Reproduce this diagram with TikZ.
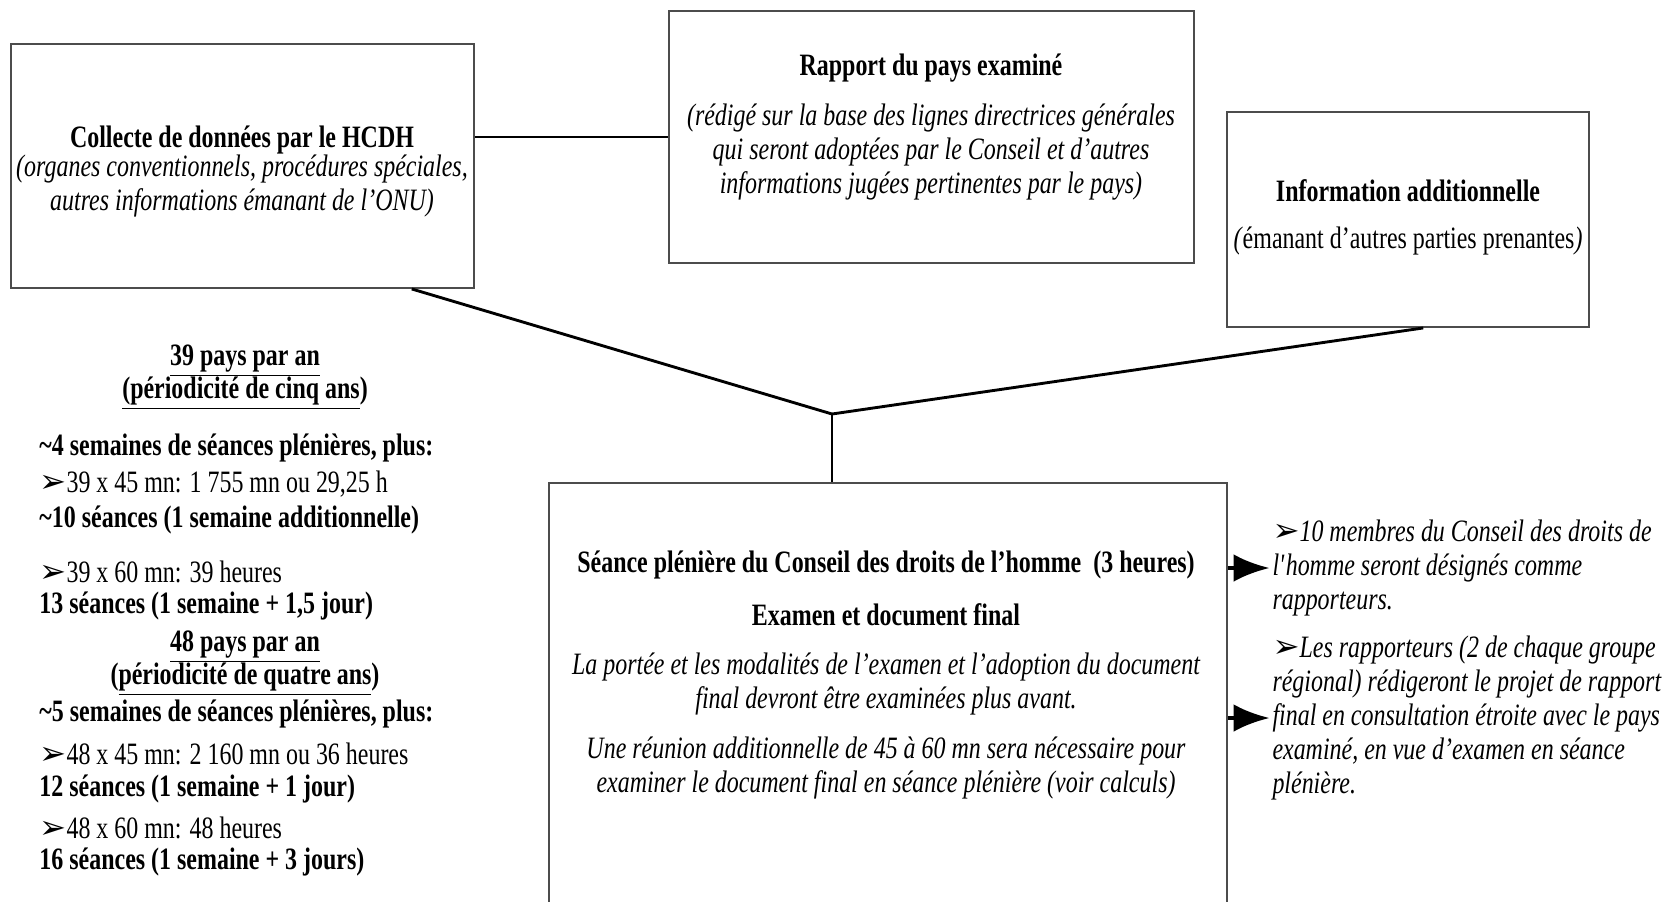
\documentclass[tikz,border=0pt]{standalone}
\usepackage{fontspec}
\setmainfont{Liberation Serif}[FakeStretch=0.77]
\newfontfamily\dingfont{DejaVu Sans}
\usetikzlibrary{arrows.meta,positioning,fit}

\newcommand{\pointer}{{\dingfont\fontsize{13.5}{12}\selectfont ➢}}
\tikzset{
  panel/.style={draw=black!70, line width=0.8pt, inner sep=0pt},
  head/.style={font=\fontsize{13}{14.3}\selectfont\bfseries, inner sep=0pt},
  note/.style={font=\fontsize{13}{14.3}\selectfont\itshape, align=center, inner sep=0pt},
  calcline/.style={font=\fontsize{13}{14.3}\selectfont, anchor=west, inner sep=0pt},
  link/.style={line width=1.2pt},
  bigarrow/.style={line width=1.8pt, -{Latex[length=15pt,width=11.5pt]}}
}

\begin{document}
\begin{tikzpicture}[x=0.418pt,y=-0.418pt]
  \useasboundingbox (0,0) rectangle (1672,901);
  \clip (0,0) rectangle (1672,901);

  % the four boxes
  \node[panel, fit={(11,44) (474,288)}] (collecte) {};
  \node[panel, fit={(669,11) (1194,263)}] (rapport) {};
  \node[panel, fit={(1227,112) (1589,327)}] (info) {};
  \node[panel, fit={(549,483) (1227,930)}] (pleniere) {};

  % box texts
  \node[head] (collecteT) at (242,140) {Collecte de données par le HCDH};
  \node[note] (collecteN) at (242,186) {(organes conventionnels, procédures spéciales,\\ autres informations émanant de l’ONU)};

  \node[head] (rapportT) at (931,68) {Rapport du pays examiné};
  \node[note] (rapportN) at (931,152) {(rédigé sur la base des lignes directrices générales\\ qui seront adoptées par le Conseil et d’autres\\ informations jugées pertinentes par le pays)};

  \node[head] (infoT) at (1408,191) {Information additionnelle};
  \node[note, font=\fontsize{13}{14.3}\selectfont] (infoN) at (1408,241) {\textit{(}émanant d’autres parties prenantes\textit{)}};

  \node[head] (pleniereT) at (886,565) {Séance plénière du Conseil des droits de l’homme\ \ (3 heures)};
  \node[head] (pleniereS) at (886,615) {Examen et document final};
  \node[note] (pleniereN1) at (886,684) {La portée et les modalités de l’examen et l’adoption du document\\ final devront être examinées plus avant.};
  \node[note] (pleniereN2) at (886,768) {Une réunion additionnelle de 45 à 60 mn sera nécessaire pour\\ examiner le document final en séance plénière (voir calculs)};

  % rapporteurs
  \node[note, align=left, anchor=west] (rapp1) at (1272,568) {\pointer10 membres du Conseil des droits de\\ l\textquotesingle homme seront désignés comme\\ rapporteurs.};
  \node[note, align=left, anchor=west] (rapp2) at (1272,718) {\pointer Les rapporteurs (2 de chaque groupe\\ régional) rédigeront le projet de rapport\\ final en consultation étroite avec le pays\\ examiné, en vue d’examen en séance\\ plénière.};

  % calculations on the left
  \node[head] (pays39) at (245,361) {\underline{39 pays par an}};
  \node[head] (cinq) at (245,393) {\underline{(périodicité de cinq ans})};
  \node[calcline, font=\fontsize{13}{14.3}\selectfont\bfseries] (c1) at (39,448) {\textasciitilde4 semaines de séances plénières, plus:};
  \node[calcline] (c2) at (39,484) {\pointer39 x 45 mn: 1 755 mn ou 29,25 h};
  \node[calcline, font=\fontsize{13}{14.3}\selectfont\bfseries] (c3) at (39,520) {\textasciitilde10 séances (1 semaine additionnelle)};
  \node[calcline] (c4) at (39,572) {\pointer39 x 60 mn: 39 heures};
  \node[calcline, font=\fontsize{13}{14.3}\selectfont\bfseries] (c5) at (39,606) {13 séances (1 semaine + 1,5 jour)};
  \node[head] (pays48) at (245,647) {\underline{48 pays par an}};
  \node[head] (quatre) at (245,679) {(\underline{périodicité de quatre ans})};
  \node[calcline, font=\fontsize{13}{14.3}\selectfont\bfseries] (c6) at (39,714) {\textasciitilde5 semaines de séances plénières, plus:};
  \node[calcline] (c7) at (39,754) {\pointer48 x 45 mn: 2 160 mn ou 36 heures};
  \node[calcline, font=\fontsize{13}{14.3}\selectfont\bfseries] (c8) at (39,789) {12 séances (1 semaine + 1 jour)};
  \node[calcline] (c9) at (39,828) {\pointer48 x 60 mn: 48 heures};
  \node[calcline, font=\fontsize{13}{14.3}\selectfont\bfseries] (c10) at (39,862) {16 séances (1 semaine + 3 jours)};

  % connectors
  \coordinate (hub) at (832,414);
  \draw[line width=0.7pt] (collecte.east |- rapport.west) -- (rapport.west);
  \draw[link] (collecte.-36.9) -- (hub);
  \draw[link] (info.-82) -- (hub);
  \draw[link] (hub) -- (hub |- pleniere.north);
  \draw[bigarrow] (pleniere.east |- rapp1.west) -- ([xshift=-1pt]rapp1.west);
  \draw[bigarrow] (pleniere.east |- rapp2.west) -- ([xshift=-1pt]rapp2.west);
\end{tikzpicture}
\end{document}
